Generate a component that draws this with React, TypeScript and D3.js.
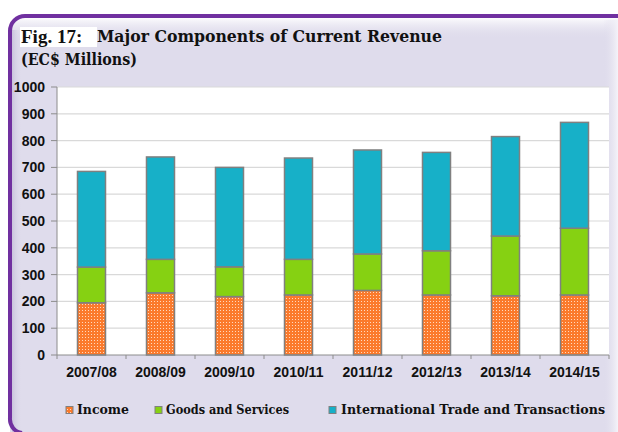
import React from "react";
import * as d3 from "d3";

const categories = ["2007/08", "2008/09", "2009/10", "2010/11", "2011/12", "2012/13", "2013/14", "2014/15"];
const income = [195, 232, 218, 224, 241, 224, 221, 224];
const goods = [133, 125, 111, 133, 136, 165, 223, 249];
const intl = [357, 382, 371, 378, 388, 367, 371, 395];
const seriesNames = ["Income", "Goods and Services", "International Trade and Transactions"];
const yTicks = [0, 100, 200, 300, 400, 500, 600, 700, 800, 900, 1000];

const W = 618, H = 432;
const plot = { left: 57, right: 609, top: 87, bottom: 355 };

export default function App() {
  const x = d3.scaleBand<string>().domain(categories).range([plot.left, plot.right]).paddingInner(0.594).paddingOuter(0.297);
  const y = d3.scaleLinear().domain([0, 1000]).range([plot.bottom, plot.top]);
  const rows = categories.map((c, i) => ({ cat: c, income: income[i], goods: goods[i], intl: intl[i] }));
  const stack = d3.stack<any>().keys(["income", "goods", "intl"])(rows);
  const fills = ["url(#dots)", "#86d112", "#17b0c8"];
  const step = x.step();
  const boundaries = categories.map((_, i) => plot.left + step * i).concat([plot.right]);

  const legend = [
    { sx: 66, tx: 77, tl: 52, fill: "url(#dots)" },
    { sx: 155, tx: 166, tl: 123, fill: "#86d112" },
    { sx: 329, tx: 341, tl: 264, fill: "#17b0c8" },
  ];

  return (
    <svg width={W} height={H} style={{ position: "absolute", left: 0, top: 0 }} xmlns="http://www.w3.org/2000/svg">
      <defs>
        <pattern id="dots" width="3" height="3" patternUnits="userSpaceOnUse">
          <rect width="3" height="3" fill="#fb7a2c" />
          <rect x="1" y="1" width="1" height="1" fill="#ffd9bf" />
        </pattern>
        <linearGradient id="topShade" x1="0" y1="0" x2="0" y2="1">
          <stop offset="0" stopColor="#ffffff" />
          <stop offset="1" stopColor="#dfdcec" stopOpacity="0" />
        </linearGradient>
        <linearGradient id="rightShade" x1="0" y1="0" x2="1" y2="0">
          <stop offset="0" stopColor="#dfdcec" stopOpacity="0" />
          <stop offset="1" stopColor="#f4f3f9" />
        </linearGradient>
        <linearGradient id="leftShade" x1="0" y1="0" x2="1" y2="0">
          <stop offset="0" stopColor="#c9c4dc" />
          <stop offset="1" stopColor="#dfdcec" stopOpacity="0" />
        </linearGradient>
      </defs>
      <rect width={W} height={H} fill="#ffffff" />
      <path d={`M ${W + 5} 16 H 25 A 15 15 0 0 0 10 31 V ${H + 5} H ${W + 5} Z`} fill="#dfdcec" />
      <rect x={12} y={17} width={W} height={22} fill="url(#topShade)" />
      <rect x={12} y={30} width={10} height={H} fill="url(#leftShade)" />
      <rect x={603} y={20} width={15} height={H} fill="url(#rightShade)" />
      <path d={`M ${W + 5} 16 H 25 A 15 15 0 0 0 10 31 V 418 A 14 14 0 0 0 22 ${H + 1}`} fill="none" stroke="#7030a0" strokeWidth={4} />

      {/* Title */}
      <rect x={20} y={27} width={77} height={20} fill="#ffffff" />
      <text x={21} y={43} fontFamily="'Liberation Serif', serif" fontWeight="bold" fontSize={19} fill="#111">Fig. 17:</text>
      <text x={97} y={42} fontFamily="'DejaVu Serif', serif" fontWeight="bold" fontSize={16.5} fill="#111" textLength={345} lengthAdjust="spacingAndGlyphs">Major Components of Current Revenue</text>
      <text x={21} y={65} fontFamily="'DejaVu Serif', serif" fontWeight="bold" fontSize={16} fill="#111" textLength={116} lengthAdjust="spacingAndGlyphs">(EC$ Millions)</text>

      {/* Plot area */}
      <rect x={plot.left} y={plot.top} width={plot.right - plot.left} height={plot.bottom - plot.top} fill="#ffffff" />
      {yTicks.filter((t) => t > 0).map((t) => (
        <line key={t} x1={plot.left} x2={plot.right} y1={y(t)} y2={y(t)} stroke="#d9d9d9" strokeWidth={1.2} />
      ))}

      {stack.map((s, si) =>
        s.map((d: any, i: number) => (
          <rect key={`${si}-${i}`} x={x(categories[i])} y={y(d[1])} width={x.bandwidth()} height={y(d[0]) - y(d[1])} fill={fills[si]} stroke="#808080" strokeWidth={1.5} />
        ))
      )}

      {/* Axes */}
      <line x1={plot.left} x2={plot.left} y1={plot.top} y2={plot.bottom} stroke="#8c8c8c" strokeWidth={1} />
      <line x1={plot.left} x2={plot.right} y1={plot.bottom} y2={plot.bottom} stroke="#8c8c8c" strokeWidth={1} />
      {yTicks.map((t) => (
        <g key={t}>
          <line x1={plot.left - 6} x2={plot.left} y1={y(t)} y2={y(t)} stroke="#8c8c8c" />
          <text x={45} y={y(t)} dy="0.35em" textAnchor="end" fontFamily="'Liberation Sans', Arial, sans-serif" fontWeight="bold" fontSize={14} fill="#111">{t}</text>
        </g>
      ))}
      {boundaries.map((b, i) => (
        <line key={i} x1={b} x2={b} y1={plot.bottom} y2={plot.bottom + 4} stroke="#8c8c8c" />
      ))}
      {categories.map((c) => (
        <text key={c} x={(x(c) as number) + x.bandwidth() / 2} y={376.5} textAnchor="middle" fontFamily="'Liberation Sans', Arial, sans-serif" fontWeight="bold" fontSize={14} fill="#111">{c}</text>
      ))}

      {/* Legend */}
      {legend.map((l, i) => (
        <g key={i}>
          <rect x={l.sx} y={406.5} width={7} height={7} fill={l.fill} stroke="#808080" strokeWidth={1} />
          <text x={l.tx} y={414} fontFamily="'DejaVu Serif', serif" fontWeight="bold" fontSize={12} fill="#111" textLength={l.tl} lengthAdjust="spacingAndGlyphs">{seriesNames[i]}</text>
        </g>
      ))}
    </svg>
  );
}
